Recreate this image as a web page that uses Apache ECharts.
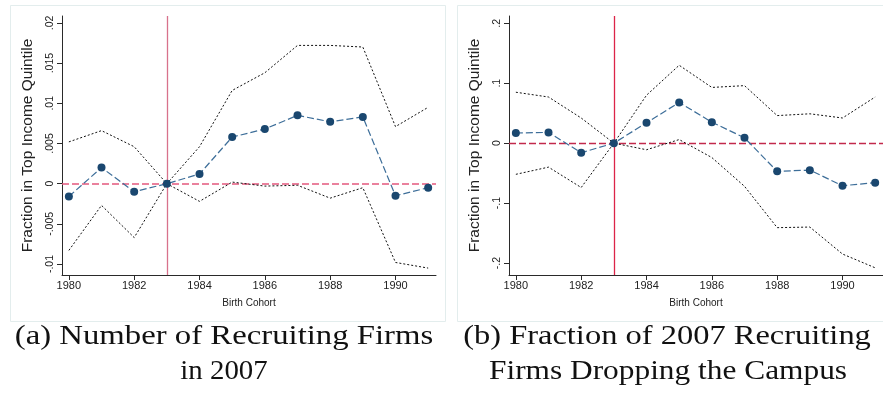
<!DOCTYPE html>
<html><head><meta charset="utf-8">
<script src="https://cdn.jsdelivr.net/npm/echarts@6/dist/echarts.min.js"></script>
<style>html,body{margin:0;padding:0;background:#fff}#c{width:883px;height:395px}</style>
</head><body><div id="c"></div>
<script>
const years = [1980,1981,1982,1983,1984,1985,1986,1987,1988,1989,1990,1991];
const estA = [-0.0016, 0.0020, -0.0010, 0, 0.0012, 0.0058, 0.0068, 0.0085, 0.0077, 0.0083, -0.0015, -0.0005];
const upA  = [0.0052, 0.0066, 0.0046, 0, 0.0046, 0.0116, 0.0138, 0.0172, 0.0172, 0.0170, 0.0071, 0.0095];
const loA  = [-0.0083, -0.0027, -0.0067, 0, -0.0022, 0.0002, -0.0003, -0.0002, -0.0018, -0.0005, -0.0098, -0.0105];
const estB = [0.017, 0.018, -0.016, 0, 0.034, 0.068, 0.035, 0.009, -0.047, -0.045, -0.071, -0.066];
const upB  = [0.085, 0.077, 0.042, 0, 0.080, 0.130, 0.093, 0.096, 0.046, 0.049, 0.042, 0.077];
const loB  = [-0.052, -0.040, -0.074, 0, -0.011, 0.006, -0.024, -0.072, -0.141, -0.140, -0.185, -0.208];
const xTicks = [1980,1982,1984,1986,1988,1990];
const yTicksA = [-0.01,-0.005,0,0.005,0.01,0.015,0.02];
const yTicksB = [-0.2,-0.1,0,0.1,0.2];
const eventYear = 1983;
const xTitle = 'Birth Cohort';
const yTitle = 'Fraction in Top Income Quintile';
const capA = ['(a) Number of Recruiting Firms', 'in 2007'];
const capB = ['(b) Fraction of 2007 Recruiting', 'Firms Dropping the Campus'];

const pairs = arr => years.map((y,i)=>[y,arr[i]]);
const fmt = v => { if (Math.abs(v) < 1e-12) return '0'; let s = String(+v.toFixed(4)); return s.replace('0.', '.'); };
const sans = 'Liberation Sans, Arial, sans-serif';
const axisCol = '#2a2a2a';

function xAx(idx){
  return {
    type:'value', gridIndex:idx, min:1979.79, max:1991.24,
    name:xTitle, nameLocation:'middle', nameGap:23,
    nameTextStyle:{fontFamily:sans, fontSize:10, color:'#222'},
    axisLine:{show:true, onZero:false, lineStyle:{color:axisCol, width:1}},
    axisTick:{show:true, length:5, customValues:xTicks, lineStyle:{color:axisCol}},
    axisLabel:{customValues:xTicks, margin:5, fontFamily:sans, fontSize:11, color:'#222', formatter:v=>String(v)},
    splitLine:{show:false}
  };
}
function yAx(idx, mn, mx, ticks){
  return {
    type:'value', gridIndex:idx, min:mn, max:mx,
    name:yTitle, nameLocation:'middle', nameGap:26,
    nameTextStyle:{fontFamily:sans, fontSize:15.5, color:'#222'},
    axisLine:{show:true, onZero:false, lineStyle:{color:axisCol, width:1}},
    axisTick:{show:true, length:5, customValues:ticks, lineStyle:{color:axisCol}},
    axisLabel:{customValues:ticks, rotate:90, margin:6, fontFamily:sans, fontSize:10.5, color:'#222', formatter:fmt},
    splitLine:{show:false}
  };
}
function ciSeries(idx, data){
  return {type:'line', xAxisIndex:idx, yAxisIndex:idx, data:pairs(data), symbol:'none', silent:true,
    lineStyle:{color:'#111', width:1, type:[2,2]}, z:3};
}
function estSeries(idx, data, vCol, hCol, hW){
  return {type:'line', xAxisIndex:idx, yAxisIndex:idx, data:pairs(data), symbol:'circle', symbolSize:8,
    itemStyle:{color:'#1a476f'}, lineStyle:{color:'#3d6e99', width:1.2, type:[7,3]}, z:5,
    markLine:{silent:true, symbol:'none', label:{show:false}, z:2,
      data:[
        {xAxis:eventYear, lineStyle:{color:vCol, width:1.3, type:'solid'}},
        {yAxis:0, lineStyle:{color:hCol, width:hW, type:[7,3]}}
      ]}
  };
}
function cap(text, x, y, sx){
  return {type:'text', x:x, y:y, scaleX:sx, style:{text:text, font:'28px "Liberation Serif", serif', fill:'#111', textAlign:'center', textVerticalAlign:'middle'}};
}

const chart = echarts.init(document.getElementById('c'), null, {renderer:'canvas'});
chart.setOption({
  animation:false,
  backgroundColor:'#fff',
  grid:[
    {left:62, top:16, width:374, height:259},
    {left:509, top:16, width:374, height:259}
  ],
  xAxis:[xAx(0), xAx(1)],
  yAxis:[yAx(0,-0.01136,0.02086,yTicksA), yAx(1,-0.22,0.2122,yTicksB)],
  series:[
    ciSeries(0, upA), ciSeries(0, loA), estSeries(0, estA, '#d8728c', '#e4587e', 1.6),
    ciSeries(1, upB), ciSeries(1, loB), estSeries(1, estB, '#dc2448', '#c22a4c', 1.3)
  ],
  graphic:[
    {type:'rect', shape:{x:10.5,y:5.5,width:435,height:316}, style:{fill:'none', stroke:'#e3eded', lineWidth:1}, z:-1},
    {type:'rect', shape:{x:457.5,y:5.5,width:440,height:316}, style:{fill:'none', stroke:'#e3eded', lineWidth:1}, z:-1},
    cap(capA[0], 224, 337, 1.17),
    cap(capA[1], 224, 372, 1.03),
    cap(capB[0], 667, 337, 1.16),
    cap(capB[1], 668, 372, 1.12)
  ]
});
</script></body></html>
